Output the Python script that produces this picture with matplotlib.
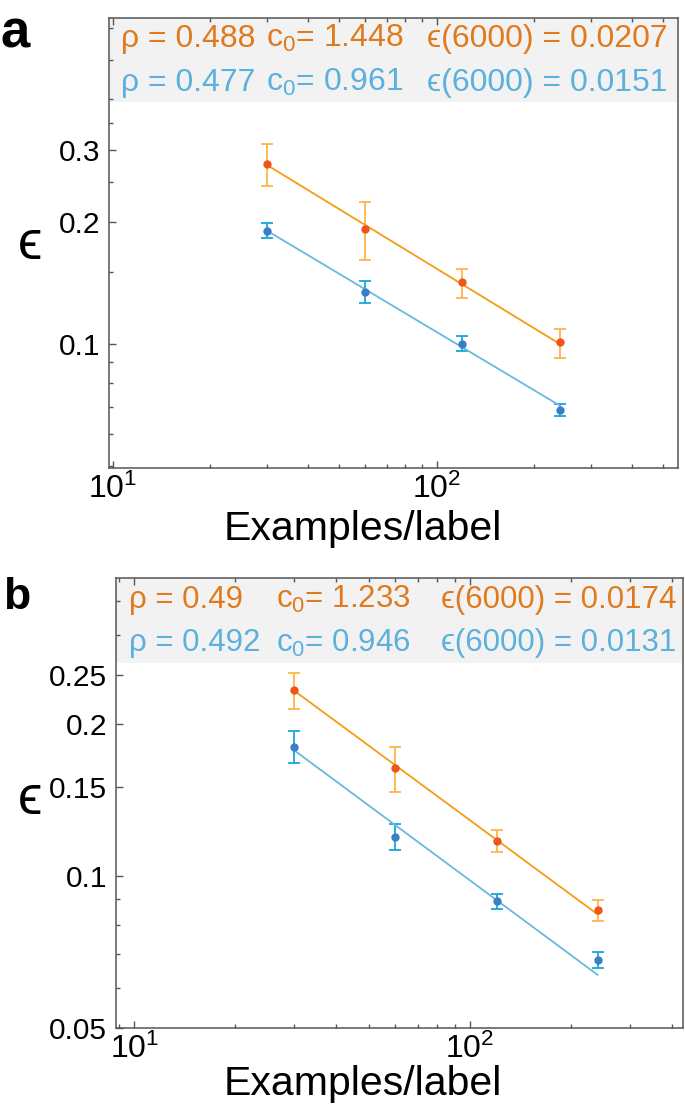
import matplotlib
matplotlib.use('Agg')
import matplotlib.pyplot as plt
import numpy as np
from matplotlib.patches import Rectangle
from matplotlib.ticker import FixedLocator, FixedFormatter, NullFormatter

plt.rcParams['font.family'] = ['Liberation Sans', 'DejaVu Sans']
plt.rcParams['mathtext.fontset'] = 'custom'
plt.rcParams['mathtext.rm'] = 'Liberation Sans'
plt.rcParams['mathtext.it'] = 'Liberation Sans:italic'

# examples per label (x positions)
n_per_label = [30, 60, 120, 240]

# panel a: mean error and error-bar ends
a_orange = [0.277, 0.192, 0.142, 0.101]
a_orange_lo = [0.245, 0.161, 0.130, 0.092]
a_orange_hi = [0.310, 0.223, 0.153, 0.109]
a_blue = [0.190, 0.134, 0.100, 0.0687]
a_blue_lo = [0.182, 0.126, 0.096, 0.0664]
a_blue_hi = [0.198, 0.143, 0.1045, 0.0710]
a_rho = [0.488, 0.477]
a_c0 = [1.448, 0.961]
a_eps = [0.0207, 0.0151]

# panel b
b_orange = [0.2336, 0.1637, 0.1176, 0.0857]
b_orange_lo = [0.2148, 0.1471, 0.1115, 0.0817]
b_orange_hi = [0.2531, 0.180, 0.1237, 0.0898]
b_blue = [0.1806, 0.1196, 0.0892, 0.0683]
b_blue_lo = [0.1674, 0.1125, 0.0861, 0.0658]
b_blue_hi = [0.1939, 0.1268, 0.0921, 0.0709]
b_rho = [0.49, 0.492]
b_c0 = [1.233, 0.946]
b_eps = [0.0174, 0.0131]

orange_txt = '#e07a1c'
blue_txt = '#5bb0de'
orange_line = '#f59c12'
orange_pt = '#ee561c'
orange_err = '#ffb443'
blue_line = '#6ab8e2'
blue_pt = '#3a7ec6'
blue_err = '#16a6dc'
spine_c = '#555555'
EPS = '\u03f5'

W, H = 685, 1107
fig = plt.figure(figsize=(W / 100, H / 100), dpi=100)


def fx(px):
    return px / W


def fy(py):
    return 1 - py / H


def panel(ax, xlim, ylim, yticks, yminor, box_h):
    ax.set_xscale('log')
    ax.set_yscale('log')
    ax.set_xlim(*xlim)
    ax.set_ylim(*ylim)
    ax.xaxis.set_major_locator(FixedLocator([10, 100]))
    ax.xaxis.set_major_formatter(FixedFormatter(['$10^1$', '$10^2$']))
    ax.xaxis.set_minor_locator(FixedLocator([9, 20, 30, 40, 50, 60, 70, 80, 90,
                                             200, 300, 400, 500]))
    ax.xaxis.set_minor_formatter(NullFormatter())
    ax.yaxis.set_major_locator(FixedLocator(yticks))
    ax.yaxis.set_major_formatter(FixedFormatter([f'{v:g}' for v in yticks]))
    ax.yaxis.set_minor_locator(FixedLocator(yminor))
    ax.yaxis.set_minor_formatter(NullFormatter())
    ax.tick_params(which='both', direction='in', top=True, right=False,
                   color=spine_c, width=1.0, labelsize=21.5)
    ax.tick_params(which='major', length=5)
    ax.tick_params(which='minor', length=3)
    ax.tick_params(axis='y', pad=6)
    ax.tick_params(axis='x', pad=4, labelsize=23)
    for s in ax.spines.values():
        s.set_color(spine_c)
        s.set_linewidth(1.1)
    ax.add_patch(Rectangle((0, 1 - box_h), 1, box_h, transform=ax.transAxes,
                           facecolor='#f2f2f2', edgecolor='none', zorder=1))


def draw(ax, y, lo, hi, rho, c0, pt, err, line):
    x = np.array(n_per_label, dtype=float)
    y = np.array(y)
    xf = x[[0, -1]]
    ax.errorbar(x, y, yerr=[y - np.array(lo), np.array(hi) - y], fmt='none',
                ecolor=err, elinewidth=1.3, capsize=4, capthick=1.3, zorder=3)
    ax.plot(xf, c0 * xf ** (-rho), color=line, lw=1.3, zorder=4)
    ax.plot(x, y, 'o', color=pt, ms=6, mec='none', zorder=5)


# ---- panel a
ax_a = fig.add_axes([fx(108.5), fy(467.7), fx(677.5 - 108.5), (467.7 - 18.3) / H])
panel(ax_a, (9.7, 553), (0.0495, 0.634), [0.1, 0.2, 0.3],
      [0.05, 0.06, 0.07, 0.08, 0.09, 0.15, 0.25, 0.35, 0.4, 0.5, 0.6], 0.186)
draw(ax_a, a_orange, a_orange_lo, a_orange_hi, a_rho[0], a_c0[0],
     orange_pt, orange_err, orange_line)
draw(ax_a, a_blue, a_blue_lo, a_blue_hi, a_rho[1], a_c0[1],
     blue_pt, blue_err, blue_line)

# ---- panel b
ax_b = fig.add_axes([fx(115.5), fy(1028.3), fx(683.3 - 115.5), (1028.3 - 578.3) / H])
panel(ax_b, (8.8, 432), (0.05, 0.389), [0.05, 0.1, 0.15, 0.2, 0.25],
      [0.06, 0.07, 0.08, 0.09, 0.3, 0.35], 0.188)
draw(ax_b, b_orange, b_orange_lo, b_orange_hi, b_rho[0], b_c0[0],
     orange_pt, orange_err, orange_line)
draw(ax_b, b_blue, b_blue_lo, b_blue_hi, b_rho[1], b_c0[1],
     blue_pt, blue_err, blue_line)

# ---- fit parameter boxes
def params(cols, base1, base2, rho, c0, eps, size):
    for base, r, c, e, col in [(base1, rho[0], c0[0], eps[0], orange_txt),
                               (base2, rho[1], c0[1], eps[1], blue_txt)]:
        kw = dict(color=col, fontsize=size, va='baseline', ha='left')
        fig.text(fx(cols[0]), fy(base), f'\u03c1 = {r:g}', **kw)
        fig.text(fx(cols[1]), fy(base), f'c$_0$= {c:g}', **kw)
        fig.text(fx(cols[2]), fy(base), f'{EPS}(6000) = {e:g}', **kw)


params([121, 266, 427], 47, 90.5, a_rho, a_c0, a_eps, 23)
params([129, 276, 441], 608, 651.5, b_rho, b_c0, b_eps, 22.5)

# panel letters, axis labels
fig.text(fx(0), fy(48), 'a', fontsize=38, fontweight='bold', va='baseline')
fig.text(fx(3), fy(609), 'b', fontsize=32, fontweight='bold', va='baseline')
fig.text(fx(30), fy(245), EPS, fontsize=40, ha='center', va='center')
fig.text(fx(30), fy(800), EPS, fontsize=40, ha='center', va='center')
fig.text(fx(502), fy(540), 'Examples/label', fontsize=29.5, ha='right', va='baseline')
fig.text(fx(502), fy(1095), 'Examples/label', fontsize=29.5, ha='right', va='baseline')

fig.savefig('out.png', dpi=100)
